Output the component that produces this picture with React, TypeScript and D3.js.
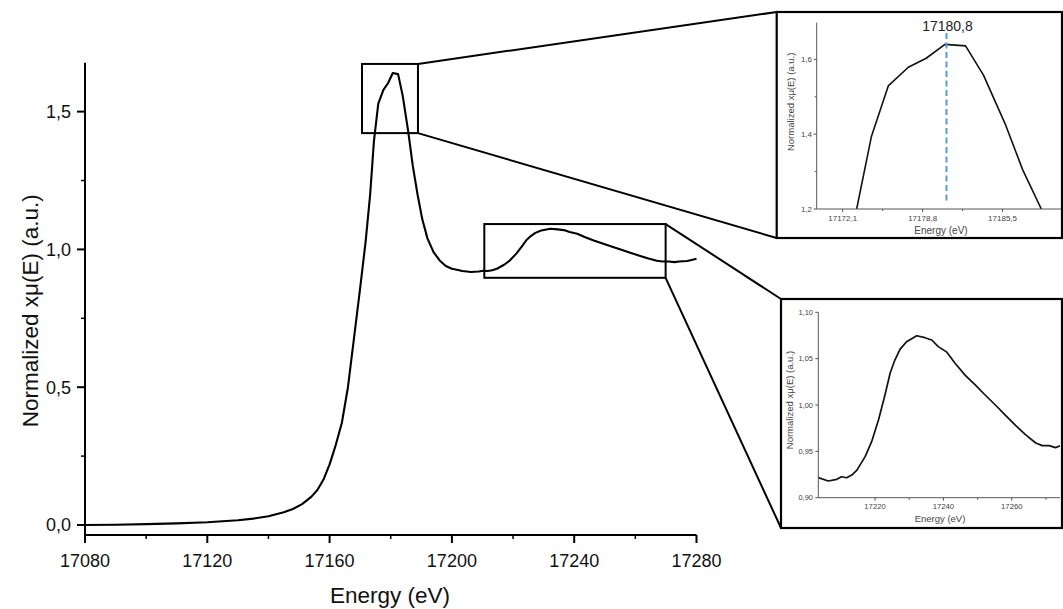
import React from "react";
import * as d3 from "d3";

// ---- data ----
const energy = [
  17080, 17090, 17100, 17110, 17120, 17130, 17135, 17140, 17145, 17148, 17151, 17154, 17156, 17158,
  17160, 17162, 17164, 17166, 17168, 17170, 17171.8, 17173.27, 17174.5, 17175.92, 17177.6, 17179.1,
  17180.67, 17182.4, 17183.9, 17185.7, 17187.2, 17188.75, 17190.3, 17192, 17194, 17196, 17198, 17200,
  17202, 17203.4, 17206.3, 17208.8, 17210.2, 17211.7, 17213.2, 17214.7, 17217.1, 17219, 17221,
  17222.9, 17224.4, 17225.8, 17227.3, 17229.2, 17232.2, 17234.6, 17236.6, 17238.5, 17241, 17243.4,
  17246.4, 17249.3, 17252.2, 17255.2, 17258.1, 17261.1, 17264, 17267, 17268.9, 17270.9, 17272.8,
  17274.3, 17277, 17280,
];
const mu = [
  0.0, 0.001, 0.003, 0.006, 0.01, 0.017, 0.023, 0.032, 0.046, 0.058, 0.076, 0.102, 0.127, 0.165,
  0.22, 0.29, 0.37, 0.5, 0.68, 0.86, 1.03, 1.2, 1.393, 1.529, 1.579, 1.603,
  1.64, 1.636, 1.558, 1.429, 1.304, 1.2, 1.11, 1.04, 0.99, 0.96, 0.94, 0.93,
  0.925, 0.9216, 0.918, 0.9198, 0.9226, 0.9215, 0.9244, 0.9298, 0.9443, 0.9604, 0.9838,
  1.0108, 1.0342, 1.0485, 1.06, 1.0683, 1.0747, 1.0726, 1.0701, 1.063, 1.057, 1.045,
  1.032, 1.0216, 1.0108, 1.0, 0.989, 0.978, 0.968, 0.959, 0.9562, 0.9562, 0.954,
  0.9562, 0.958, 0.966,
];
const peakEnergy = 17180.8;

const mainXTicks = [17080, 17120, 17160, 17200, 17240, 17280];
const mainXMinor = [17100, 17140, 17180, 17220, 17260];
const mainYTicks = [0, 0.5, 1.0, 1.5];
const mainYMinor = [0.25, 0.75, 1.25];

const inset1XTicks = [17172.1, 17178.8, 17185.5];
const inset1XMinor = [17175.45, 17182.15];
const inset1YTicks = [1.2, 1.4, 1.6];
const inset1YMinor = [1.3, 1.5];

const inset2XTicks = [17220, 17240, 17260];
const inset2XMinor = [17230, 17250, 17270];
const inset2YTicks = [0.9, 0.95, 1.0, 1.05, 1.1];

const zoom1 = { x: [17170.6, 17188.9], y: [1.422, 1.673] };
const zoom2 = { x: [17210.6, 17269.9], y: [0.897, 1.092] };

const FONT = "'Liberation Sans', Arial, Helvetica, sans-serif";
const fmt = (d: number, n: number) => d.toFixed(n).replace(".", ",");

const points = energy.map((e, i) => ({ e, m: mu[i] }));

export default function App() {
  const W = 1063;
  const H = 609;

  // main scales
  const x = d3.scaleLinear().domain([17080, 17280]).range([85, 696.5]);
  const y = d3.scaleLinear().domain([-0.0363, 1.6775]).range([535, 62.7]);

  // inset 1
  const f1 = { x0: 776.7, y0: 12, x1: 1062, y1: 238 };
  const xi1 = d3.scaleLinear().domain([17169.92, 17190.4]).range([816.7, 1061]);
  const yi1 = d3.scaleLinear().domain([1.2, 1.698]).range([209, 22.7]);

  // inset 2
  const f2 = { x0: 781, y0: 299, x1: 1062, y1: 528 };
  const xi2 = d3.scaleLinear().domain([17203.4, 17274.1]).range([818.3, 1060]);
  const yi2 = d3.scaleLinear().domain([0.9, 1.1]).range([497.7, 312.3]);

  const mainLine = d3
    .line<{ e: number; m: number }>()
    .x((d) => x(d.e))
    .y((d) => y(d.m))(points) as string;
  const line1 = d3
    .line<{ e: number; m: number }>()
    .x((d) => xi1(d.e))
    .y((d) => yi1(d.m))(points) as string;
  const line2 = d3
    .line<{ e: number; m: number }>()
    .x((d) => xi2(d.e))
    .y((d) => yi2(d.m))(points) as string;

  const b1 = { x0: x(zoom1.x[0]), x1: x(zoom1.x[1]), y0: y(zoom1.y[1]), y1: y(zoom1.y[0]) };
  const b2 = { x0: x(zoom2.x[0]), x1: x(zoom2.x[1]), y0: y(zoom2.y[1]), y1: y(zoom2.y[0]) };

  const axisY0 = y.range()[0];
  const axisX0 = x.range()[0];

  return (
    <svg
      width={W}
      height={H}
      style={{ position: "absolute", left: 0, top: 0, background: "#fff" }}
      fontFamily={FONT}
    >
      <defs>
        <clipPath id="clip1">
          <rect x={xi1.range()[0]} y={yi1.range()[1]} width={xi1.range()[1] - xi1.range()[0]} height={yi1.range()[0] - yi1.range()[1]} />
        </clipPath>
        <clipPath id="clip2">
          <rect x={xi2.range()[0]} y={yi2.range()[1]} width={xi2.range()[1] - xi2.range()[0]} height={yi2.range()[0] - yi2.range()[1]} />
        </clipPath>
      </defs>
      <rect x={0} y={0} width={W} height={H} fill="#fff" />

      {/* ---------- main plot ---------- */}
      <path d={mainLine} fill="none" stroke="#000" strokeWidth={2.1} strokeLinejoin="round" />
      {/* axes */}
      <line x1={axisX0} x2={axisX0} y1={y.range()[1]} y2={axisY0} stroke="#000" strokeWidth={2} />
      <line x1={axisX0 - 1} x2={x.range()[1]} y1={axisY0} y2={axisY0} stroke="#000" strokeWidth={2} />
      {mainXTicks.map((t) => (
        <g key={"mx" + t}>
          <line x1={x(t)} x2={x(t)} y1={axisY0} y2={axisY0 + 8} stroke="#000" strokeWidth={2} />
          <text x={x(t)} y={566.5} fontSize={18} textAnchor="middle" fill="#111">
            {t}
          </text>
        </g>
      ))}
      {mainXMinor.map((t) => (
        <line key={"mxm" + t} x1={x(t)} x2={x(t)} y1={axisY0} y2={axisY0 + 4} stroke="#000" strokeWidth={1.5} />
      ))}
      {mainYTicks.map((t) => (
        <g key={"my" + t}>
          <line x1={axisX0 - 8} x2={axisX0} y1={y(t)} y2={y(t)} stroke="#000" strokeWidth={2} />
          <text x={71} y={y(t) + 6.3} fontSize={18} textAnchor="end" fill="#111">
            {fmt(t, 1)}
          </text>
        </g>
      ))}
      {mainYMinor.map((t) => (
        <line key={"mym" + t} x1={axisX0 - 4} x2={axisX0} y1={y(t)} y2={y(t)} stroke="#000" strokeWidth={1.5} />
      ))}
      <text x={390} y={603} fontSize={22.5} textAnchor="middle" fill="#111">
        Energy (eV)
      </text>
      <text transform={`translate(38,${(y.range()[0] + y.range()[1]) / 2 + 12}) rotate(-90)`} fontSize={22.5} textAnchor="middle" fill="#111">
        Normalized xμ(E) (a.u.)
      </text>

      {/* zoom boxes */}
      <rect x={b1.x0} y={b1.y0} width={b1.x1 - b1.x0} height={b1.y1 - b1.y0} fill="none" stroke="#000" strokeWidth={2} />
      <rect x={b2.x0} y={b2.y0} width={b2.x1 - b2.x0} height={b2.y1 - b2.y0} fill="none" stroke="#000" strokeWidth={2} />

      {/* connectors */}
      <line x1={b1.x1} y1={b1.y0} x2={f1.x0} y2={f1.y0} stroke="#000" strokeWidth={2} />
      <line x1={b1.x1} y1={b1.y1} x2={f1.x0} y2={f1.y1} stroke="#000" strokeWidth={2} />
      <line x1={b2.x1} y1={b2.y0} x2={f2.x0} y2={f2.y0} stroke="#000" strokeWidth={2} />
      <line x1={b2.x1} y1={b2.y1} x2={f2.x0} y2={f2.y1} stroke="#000" strokeWidth={2} />

      {/* ---------- inset 1 ---------- */}
      <rect x={f1.x0} y={f1.y0} width={f1.x1 - f1.x0} height={f1.y1 - f1.y0} fill="#fff" stroke="#000" strokeWidth={2.2} />
      <path d={line1} fill="none" stroke="#111" strokeWidth={1.6} clipPath="url(#clip1)" strokeLinejoin="round" />
      <line x1={xi1(peakEnergy)} x2={xi1(peakEnergy)} y1={33} y2={203} stroke="#5b9bd5" strokeWidth={2} strokeDasharray="6,3.5" />
      <text x={xi1(peakEnergy) + 1} y={30.5} fontSize={14} textAnchor="middle" fill="#222">
        {fmt(peakEnergy, 1)}
      </text>
      <line x1={xi1.range()[0]} x2={xi1.range()[0]} y1={yi1.range()[1]} y2={yi1.range()[0]} stroke="#555" strokeWidth={1} />
      <line x1={xi1.range()[0]} x2={xi1.range()[1]} y1={yi1.range()[0]} y2={yi1.range()[0]} stroke="#555" strokeWidth={1} />
      {inset1XTicks.map((t) => (
        <g key={"i1x" + t}>
          <line x1={xi1(t)} x2={xi1(t)} y1={yi1.range()[0]} y2={yi1.range()[0] + 3} stroke="#555" />
          <text x={xi1(t)} y={221} fontSize={8} textAnchor="middle" fill="#444">
            {fmt(t, 1)}
          </text>
        </g>
      ))}
      {inset1XMinor.map((t) => (
        <line key={"i1xm" + t} x1={xi1(t)} x2={xi1(t)} y1={yi1.range()[0]} y2={yi1.range()[0] + 2} stroke="#555" />
      ))}
      {inset1YTicks.map((t) => (
        <g key={"i1y" + t}>
          <line x1={xi1.range()[0] - 3} x2={xi1.range()[0]} y1={yi1(t)} y2={yi1(t)} stroke="#555" />
          <text x={812} y={yi1(t) + 2.8} fontSize={8} textAnchor="end" fill="#444">
            {fmt(t, 1)}
          </text>
        </g>
      ))}
      {inset1YMinor.map((t) => (
        <line key={"i1ym" + t} x1={xi1.range()[0] - 2} x2={xi1.range()[0]} y1={yi1(t)} y2={yi1(t)} stroke="#555" />
      ))}
      <text x={941} y={234} fontSize={10} textAnchor="middle" fill="#444">
        Energy (eV)
      </text>
      <text transform={`translate(794,${(yi1.range()[0] + yi1.range()[1]) / 2 - 14}) rotate(-90)`} fontSize={9.5} textAnchor="middle" fill="#444">
        Normalized xμ(E) (a.u.)
      </text>

      {/* ---------- inset 2 ---------- */}
      <rect x={f2.x0} y={f2.y0} width={f2.x1 - f2.x0} height={f2.y1 - f2.y0} fill="#fff" stroke="#000" strokeWidth={2.2} />
      <path d={line2} fill="none" stroke="#111" strokeWidth={1.7} clipPath="url(#clip2)" strokeLinejoin="round" />
      <line x1={xi2.range()[0]} x2={xi2.range()[0]} y1={yi2.range()[1]} y2={yi2.range()[0]} stroke="#555" strokeWidth={1} />
      <line x1={xi2.range()[0]} x2={xi2.range()[1]} y1={yi2.range()[0]} y2={yi2.range()[0]} stroke="#555" strokeWidth={1} />
      {inset2XTicks.map((t) => (
        <g key={"i2x" + t}>
          <line x1={xi2(t)} x2={xi2(t)} y1={yi2.range()[0]} y2={yi2.range()[0] + 3} stroke="#555" />
          <text x={xi2(t)} y={509} fontSize={7.7} textAnchor="middle" fill="#444">
            {t}
          </text>
        </g>
      ))}
      {inset2XMinor.map((t) => (
        <line key={"i2xm" + t} x1={xi2(t)} x2={xi2(t)} y1={yi2.range()[0]} y2={yi2.range()[0] + 2} stroke="#555" />
      ))}
      {inset2YTicks.map((t) => (
        <g key={"i2y" + t}>
          <line x1={xi2.range()[0] - 3} x2={xi2.range()[0]} y1={yi2(t)} y2={yi2(t)} stroke="#555" />
          <text x={813} y={yi2(t) + 2.6} fontSize={7.5} textAnchor="end" fill="#444">
            {fmt(t, 2)}
          </text>
        </g>
      ))}
      <text x={940} y={522} fontSize={9.5} textAnchor="middle" fill="#444">
        Energy (eV)
      </text>
      <text transform={`translate(793,${(yi2.range()[0] + yi2.range()[1]) / 2 - 5}) rotate(-90)`} fontSize={9.5} textAnchor="middle" fill="#444">
        Normalized xμ(E) (a.u.)
      </text>
    </svg>
  );
}
